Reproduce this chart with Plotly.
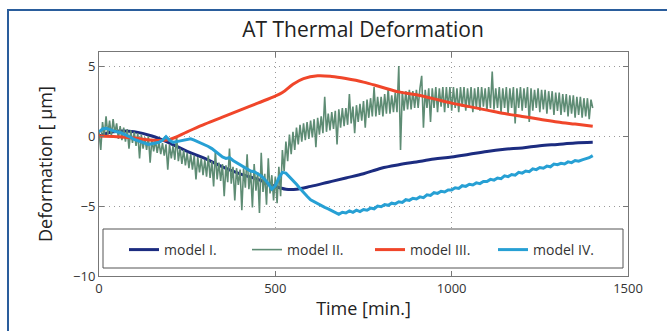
import plotly.graph_objects as go

# ---------------- data ----------------
t_m1 = [0, 30, 60, 100, 150, 200, 250, 300, 350, 400, 450, 500, 530, 560, 600, 650, 700, 750,
        800, 850, 900, 950, 1000, 1050, 1100, 1150, 1200, 1250, 1300, 1350, 1400]
v_m1 = [0.0, 0.25, 0.35, 0.3, 0.0, -0.5, -1.1, -1.6, -2.2, -2.7, -3.1, -3.6, -3.8, -3.8, -3.6,
        -3.3, -3.0, -2.7, -2.3, -2.05, -1.85, -1.65, -1.5, -1.3, -1.1, -0.95, -0.85, -0.7, -0.6,
        -0.5, -0.45]

t_m3 = [0, 50, 100, 150, 200, 250, 300, 350, 400, 450, 500, 520, 550, 580, 620, 660, 700, 750,
        800, 850, 900, 950, 1000, 1050, 1100, 1150, 1200, 1250, 1300, 1350, 1400]
v_m3 = [0.0, -0.05, -0.15, -0.3, -0.25, 0.3, 0.85, 1.35, 1.85, 2.35, 2.85, 3.1, 3.7, 4.1, 4.3,
        4.25, 4.1, 3.85, 3.5, 3.15, 2.95, 2.65, 2.35, 2.1, 1.85, 1.6, 1.4, 1.2, 1.0, 0.85, 0.7]

t_m4 = [0, 10, 20, 30, 40, 50, 60, 70, 80, 90, 100, 110, 120, 130, 140, 150, 160, 170, 180, 190,
        200, 210, 220, 230, 240, 250, 260, 270, 280, 290, 300, 310, 320, 330, 340, 350, 360, 370,
        380, 390, 400, 410, 420, 430, 440, 450, 460, 470, 480, 490, 500, 510, 520, 530, 540, 550,
        560, 570, 580, 590, 600, 610, 620, 630, 640, 650, 660, 670, 680, 690, 700, 710, 720, 730,
        740, 750, 760, 770, 780, 790, 800, 810, 820, 830, 840, 850, 860, 870, 880, 890, 900, 910,
        920, 930, 940, 950, 960, 970, 980, 990, 1000, 1010, 1020, 1030, 1040, 1050, 1060, 1070,
        1080, 1090, 1100, 1110, 1120, 1130, 1140, 1150, 1160, 1170, 1180, 1190, 1200, 1210, 1220,
        1230, 1240, 1250, 1260, 1270, 1280, 1290, 1300, 1310, 1320, 1330, 1340, 1350, 1360, 1370,
        1380, 1390, 1400]
v_m4 = [0.3, 0.5, 0.55, 0.45, 0.4, 0.3, 0.25, 0.15, 0.0, -0.1, -0.25, -0.35, -0.45, -0.5, -0.6,
        -0.55, -0.5, -0.45, -0.3, -0.05, -0.3, -0.45, -0.4, -0.35, -0.3, -0.25, -0.2, -0.3, -0.4,
        -0.5, -0.6, -0.75, -0.9, -1.1, -1.3, -1.5, -1.6, -1.55, -1.75, -1.9, -2.0, -2.2, -2.35,
        -2.5, -2.55, -2.7, -2.85, -3.1, -3.4, -3.8, -3.55, -3.0, -2.6, -2.65, -2.9, -3.2, -3.45,
        -3.75, -4.05, -4.3, -4.55, -4.7, -4.85, -5.0, -5.1, -5.2, -5.35, -5.5, -5.6, -5.45, -5.5,
        -5.35, -5.45, -5.3, -5.4, -5.25, -5.3, -5.15, -5.2, -5.0, -5.05, -4.9, -4.95, -4.8, -4.85,
        -4.7, -4.75, -4.55, -4.6, -4.45, -4.5, -4.35, -4.4, -4.2, -4.25, -4.05, -4.1, -3.95, -4.0,
        -3.85, -3.85, -3.7, -3.75, -3.55, -3.6, -3.45, -3.5, -3.35, -3.4, -3.25, -3.25, -3.1,
        -3.15, -3.0, -3.05, -2.85, -2.9, -2.75, -2.8, -2.6, -2.65, -2.5, -2.55, -2.35, -2.4, -2.25,
        -2.3, -2.15, -2.2, -2.0, -2.05, -1.95, -2.0, -1.85, -1.9, -1.75, -1.8, -1.7, -1.65, -1.55,
        -1.4, -1.45]

# model II: sampled every 5 min from 0 to 1400
t_m2 = list(range(0, 1405, 5))
v_m2 = [
    0.3, -1.0, 1.0, 0.0, 1.4, 0.1, 1.1, 0.0, 1.2, 0.2, 0.9, -0.2, 0.7, -0.3, 0.6, -0.4, 0.5, -0.9, 0.4, -0.5,
    0.3, -0.7, 0.2, -1.6, 0.1, -0.9, -0.1, -1.0, 0.0, -1.9, -0.2, -1.1, -0.3, -1.2, -0.4, -1.3, -0.5, -1.4, -0.6, -2.4,
    -0.6, -1.6, -0.7, -1.7, 0.0, -1.8, -0.9, -2.0, -1.0, -2.1, -1.2, -2.3, -1.3, -2.4, -1.4, -3.1, -1.5, -2.6, -1.6, -2.8,
    -1.7, -2.9, -1.4, -3.0, -1.8, -3.6, -1.1, -3.1, -1.9, -3.2, -2.0, -4.3, -2.1, -3.3, -0.9, -3.4, -2.2, -4.6, -2.3, -3.5,
    -2.4, -5.3, -2.3, -3.7, -1.3, -3.8, -2.5, -5.1, -2.0, -3.9, -2.6, -5.5, -1.2, -4.0, -2.7, -4.9, -1.6, -4.1, -2.8, -4.6,
    -2.9, -4.8, -2.2, -4.3, -1.0, -2.5, -0.4, -1.8, 0.1, -1.3, 0.3, -1.0, 0.6, -0.6, 0.8, -0.4, 0.9, -0.3, 1.0, -0.2,
    1.1, -0.1, 1.2, -0.8, 1.3, 0.1, 1.4, 0.2, 2.8, 0.3, 1.6, 0.4, 1.7, 0.5, 1.8, -0.6, 1.9, 0.6, 2.0, 0.7,
    2.0, 0.8, 3.0, 0.9, 2.1, 0.2, 2.2, 1.0, 2.3, 1.1, 2.5, 0.6, 2.6, 1.3, 2.7, 1.4, 3.5, 1.4, 2.8, 1.5,
    2.8, 1.4, 3.0, 1.6, 3.4, 1.6, 2.9, 1.7, 3.1, 1.7, 5.0, -1.0, 3.2, 1.8, 3.2, 1.9, 3.3, 1.9, 3.2, 2.0,
    3.3, 2.0, 3.4, 4.3, 0.6, 3.3, 2.0, 3.4, 1.0, 3.4, 2.0, 3.5, 1.7, 3.4, 2.1, 3.5, 1.7, 3.5, 2.0, 3.5,
    1.8, 3.5, 2.0, 3.4, 1.7, 3.5, 2.1, 3.5, 1.8, 3.4, 2.0, 3.5, 1.7, 3.4, 2.0, 3.5, 1.8, 3.5, 2.1, 3.4,
    1.8, 3.5, 2.0, 4.6, 1.9, 3.4, 2.0, 3.5, 1.7, 3.4, 2.0, 3.5, 1.6, 3.4, 2.0, 3.5, 0.9, 3.4, 2.0, 3.5,
    1.8, 3.4, 2.0, 3.5, 1.0, 3.4, 1.8, 3.3, 2.0, 3.4, 1.7, 3.3, 1.9, 3.3, 1.6, 3.2, 1.9, 3.2, 1.5, 3.1,
    1.8, 3.1, 1.5, 3.0, 1.7, 3.0, 1.4, 2.9, 1.6, 2.9, 1.3, 2.8, 1.5, 2.8, 1.3, 2.7, 1.4, 2.7, 1.2, 2.6,
    2.0,
]

x_ticks = [0, 500, 1000, 1500]
y_ticks = [-10, -5, 0, 5]

FONT = "Open Sans"

fig = go.Figure()
fig.add_trace(go.Scatter(x=t_m1, y=v_m1, mode="lines", name="model I.",
                         line=dict(color="#1c2c80", width=3, shape="spline")))
fig.add_trace(go.Scatter(x=t_m2, y=v_m2, mode="lines", name="model II.",
                         line=dict(color="#5e8c74", width=1.6)))
fig.add_trace(go.Scatter(x=t_m3, y=v_m3, mode="lines", name="model III.",
                         line=dict(color="#f0462a", width=3, shape="spline")))
fig.add_trace(go.Scatter(x=t_m4, y=v_m4, mode="lines", name="model IV.",
                         line=dict(color="#27a0d4", width=3)))

W, H = 667, 331
L, R, T, B = 99, 39, 52, 55
pw, ph = W - L - R, H - T - B


def px_x(p):
    return (p - L) / pw


def px_y(p):
    return (H - B - p) / ph


GRID_DASH = "1px,4px"

fig.update_layout(
    width=W, height=H,
    margin=dict(l=L, r=R, t=T, b=B),
    paper_bgcolor="white", plot_bgcolor="white",
    font=dict(family=FONT, color="#333333"),
    title=dict(text="AT Thermal Deformation", x=363 / W, xanchor="center",
               y=1 - 30 / H, yanchor="middle", yref="container",
               font=dict(size=21, color="#222222", family=FONT)),
    showlegend=True,
    legend=dict(orientation="h", x=px_x(124), y=px_y(234), xanchor="left", yanchor="top",
                bgcolor="rgba(0,0,0,0)", borderwidth=0,
                font=dict(size=14, color="#333333", family=FONT),
                entrywidth=78, entrywidthmode="pixels"),
    xaxis=dict(range=[0, 1500], tickvals=x_ticks, ticks="inside", ticklen=5,
               tickcolor="#777777", showline=True, linecolor="#777777", linewidth=1,
               mirror="ticks", showgrid=True, gridcolor="#999999", griddash=GRID_DASH,
               gridwidth=1, zeroline=False, automargin=False,
               tickfont=dict(size=13, color="#333333"),
               title=dict(text="Time [min.]", font=dict(size=18, color="#222222"), standoff=6)),
    yaxis=dict(range=[-10, 6], tickvals=y_ticks, ticks="inside", ticklen=5,
               tickcolor="#777777", showline=True, linecolor="#777777", linewidth=1,
               mirror="ticks", showgrid=True, gridcolor="#999999", griddash=GRID_DASH,
               gridwidth=1, zeroline=False, automargin=False,
               tickfont=dict(size=13, color="#333333")),
    annotations=[
        dict(text="Deformation [ µm]", textangle=-90, xref="paper", yref="paper",
             x=px_x(45), y=px_y(164), xanchor="center", yanchor="middle", showarrow=False,
             font=dict(size=18, color="#222222", family=FONT)),
    ],
    shapes=[
        # legend box
        dict(type="rect", xref="paper", yref="paper",
             x0=px_x(103), x1=px_x(623), y0=px_y(268), y1=px_y(229),
             line=dict(color="#555555", width=1), fillcolor="white", layer="above"),
        # outer blue frame
        dict(type="rect", xref="paper", yref="paper",
             x0=px_x(8), x1=px_x(700), y0=px_y(360), y1=px_y(10),
             line=dict(color="#2a5d9c", width=2), fillcolor="rgba(0,0,0,0)", layer="below"),
    ],
)

fig.write_html("out.html", config={"displayModeBar": False},
               post_script="document.body.style.margin='0';document.body.style.overflow='hidden';")
